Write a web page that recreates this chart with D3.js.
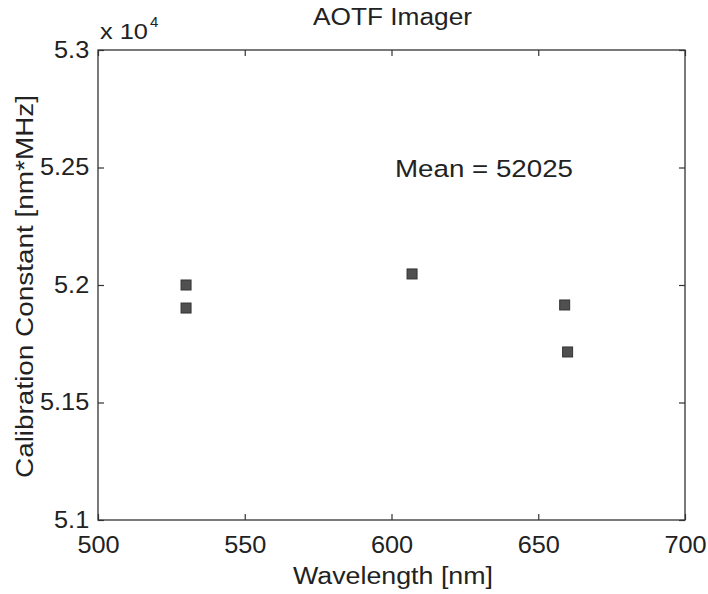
<!DOCTYPE html>
<html><head><meta charset="utf-8">
<script src="https://cdn.jsdelivr.net/npm/d3@7"></script>
<style>body{margin:0;background:#fff}text{font-family:"Liberation Sans",Arial,sans-serif;fill:#222}</style>
</head><body>
<svg id="c" width="708" height="594"></svg>
<script>
const wavelength = [530, 530, 607, 659, 660];
const calib = [52000, 51902, 52047, 51915, 51715];
const xTicks = [500, 550, 600, 650, 700];
const yTicks = [51000, 51500, 52000, 52500, 53000];
const yTickLabels = ["5.1", "5.15", "5.2", "5.25", "5.3"];
const title = "AOTF Imager";
const note = "Mean = 52025";

const svg = d3.select("#c");
const L = 98, R = 685, T = 50, B = 520;
const x = d3.scaleLinear().domain([500, 700]).range([L, R]);
const y = d3.scaleLinear().domain([51000, 53000]).range([B, T]);
const ax = "#333";

svg.append("rect").attr("x", L).attr("y", T).attr("width", R - L).attr("height", B - T)
  .attr("fill", "none").attr("stroke", ax).attr("stroke-width", 1.3);

const fmtY = d => yTickLabels[yTicks.indexOf(d)];
const gB = svg.append("g").attr("transform", `translate(0,${B})`)
  .call(d3.axisBottom(x).tickValues(xTicks).tickSizeInner(-6).tickSizeOuter(0).tickPadding(13));
const gT = svg.append("g").attr("transform", `translate(0,${T})`)
  .call(d3.axisTop(x).tickValues(xTicks).tickSizeInner(-6).tickSizeOuter(0).tickFormat(""));
const gL = svg.append("g").attr("transform", `translate(${L},0)`)
  .call(d3.axisLeft(y).tickValues(yTicks).tickFormat(fmtY).tickSizeInner(-6).tickSizeOuter(0).tickPadding(8));
const gR = svg.append("g").attr("transform", `translate(${R},0)`)
  .call(d3.axisRight(y).tickValues(yTicks).tickSizeInner(-6).tickSizeOuter(0).tickFormat(""));
[gB, gT, gL, gR].forEach(g => {
  g.select(".domain").remove();
  g.selectAll("line").attr("stroke", ax).attr("stroke-width", 1.2);
  g.selectAll("text").attr("font-size", 23).attr("fill", "#222").attr("font-family", '"Liberation Sans",Arial,sans-serif');
});
gB.selectAll("text").attr("dy", "0.85em").attr("transform", "scale(1.1,1)");
gL.selectAll("text").attr("transform", "scale(1.1,1)");

svg.append("text").attr("x", 100).attr("y", 39).attr("font-size", 22)
  .attr("textLength", 48).attr("lengthAdjust", "spacingAndGlyphs").text("x 10");
svg.append("text").attr("x", 150).attr("y", 27).attr("font-size", 15).text("4");

svg.append("text").attr("x", 313).attr("y", 25).attr("font-size", 23)
  .attr("textLength", 159).attr("lengthAdjust", "spacingAndGlyphs").text(title);
svg.append("text").attr("x", 293).attr("y", 584).attr("font-size", 23)
  .attr("textLength", 200).attr("lengthAdjust", "spacingAndGlyphs").text("Wavelength [nm]");
svg.append("text").attr("transform", "translate(33,478) rotate(-90)")
  .attr("font-size", 23).attr("textLength", 383).attr("lengthAdjust", "spacingAndGlyphs")
  .text("Calibration Constant [nm*MHz]");
svg.append("text").attr("x", 395).attr("y", 177).attr("font-size", 24.5)
  .attr("textLength", 178).attr("lengthAdjust", "spacingAndGlyphs").text(note);

svg.append("g").selectAll("rect").data(wavelength).join("rect")
  .attr("x", (d, i) => x(d) - 5).attr("y", (d, i) => y(calib[i]) - 5)
  .attr("width", 10).attr("height", 10)
  .attr("fill", "#505050").attr("stroke", "#333").attr("stroke-width", 1);
</script>
</body></html>
